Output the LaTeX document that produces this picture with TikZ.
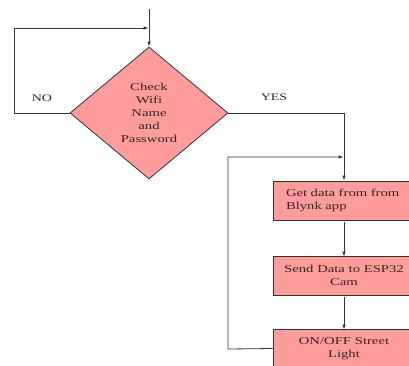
\documentclass[tikz,border=0pt]{standalone}
\usepackage{fontspec}
\setmainfont{Liberation Serif}[FakeStretch=1.4]
\usetikzlibrary{shapes.geometric,arrows.meta}
\definecolor{boxfill}{HTML}{FF9C9C}
\definecolor{linec}{HTML}{333333}
\definecolor{txt}{HTML}{3A2222}
\tikzset{
  x=1pt,y=-1pt,
  flow/.style={draw=linec,line width=0.8pt},
  arr/.style={flow,-{Latex[length=5pt,width=3.5pt]}},
  decision/.style={diamond,draw=linec,line width=0.8pt,fill=boxfill,minimum width=158pt,minimum height=132pt,inner sep=0pt,align=center,text=txt,font=\fontsize{10.5}{13}\selectfont},
  process/.style={rectangle,draw=linec,line width=0.8pt,fill=boxfill,minimum width=142pt,minimum height=39pt,inner sep=0pt,text=txt,font=\fontsize{10.5}{13}\selectfont},
  lbl/.style={text=txt,font=\fontsize{10}{12}\selectfont,inner sep=0pt}
}
\begin{document}
\begin{tikzpicture}
\useasboundingbox (0,0) rectangle (409,365);
\clip (0,0) rectangle (409,365);
\node[decision] (dec) at (149,113) {Check\\Wifi\\Name\\and\\Password};
\node[process,align=left,text width=116pt] (b1) at (344,200.5) {Get data from from\\Blynk app};
\node[process,align=center] (b2) at (344,275.5) {Send Data to ESP32\\Cam};
\node[process,align=center] (b3) at (344,348.5) {ON/OFF Street\\Light};
\node[lbl] (no) at (42,98) {NO};
\node[lbl] (yes) at (274,97) {YES};
\coordinate (start) at (149,9);
\coordinate (l1a) at (14,113);
\coordinate (l1b) at (14,28);
\coordinate (l1c) at (148.6,28);
\coordinate (y1) at (344,113);
\coordinate (l2a) at (228,349);
\coordinate (l2b) at (228,157);
\coordinate (l2c) at (343.6,157);
\draw[arr] (start) -- (dec.north);
\draw[arr] (dec.west) -- (l1a) -- (l1b) -- (l1c);
\draw[arr] (dec.east) -- (y1) -- (b1.north);
\draw[arr] (b1.south) ++(0,2) -- ([yshift=-1pt]b2.north);
\draw[arr] (b2.south) ++(0,2) -- ([yshift=-1pt]b3.north);
\draw[arr] (b3.west) -- (l2a) -- (l2b) -- (l2c);
\end{tikzpicture}
\end{document}
